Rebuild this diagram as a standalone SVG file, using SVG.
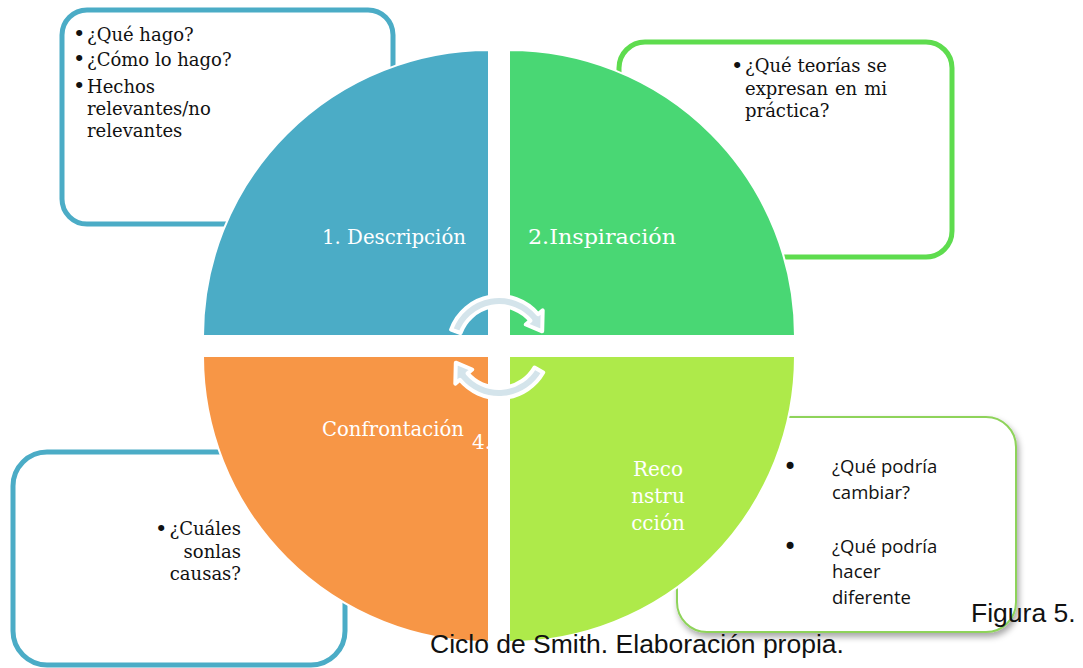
<svg xmlns="http://www.w3.org/2000/svg" width="1083" height="668" viewBox="0 0 1083 668">
<style>
.box{fill:#fff;stroke-width:5}
.blue{stroke:#4BACC6}
.green{stroke:#5EDC4E}
.lgreen{stroke:#8ED35A;stroke-width:2}
.t{font-family:"DejaVu Serif","Liberation Serif",serif;font-size:18px;fill:#111}
.b{font-family:"DejaVu Serif","Liberation Serif",serif;font-size:21px;fill:#111}
.bs{font-family:"DejaVu Sans","Liberation Sans",sans-serif;font-size:24px;fill:#111}
.q{font-family:"DejaVu Serif","Liberation Serif",serif;font-size:20px;fill:#fff}
.s{font-family:"Open Sans","Liberation Sans",sans-serif;font-size:18.5px;fill:#111}
.cap{font-family:"Liberation Sans",Arial,sans-serif;font-size:26.5px;fill:#111}
.quad{stroke:#fff;stroke-width:2}
.arr{fill:#D4E4EB;stroke:#fff;stroke-width:4;stroke-linejoin:round}
</style>
<defs>
<filter id="sh" x="-10%" y="-10%" width="125%" height="130%">
<feDropShadow dx="2" dy="4" stdDeviation="3" flood-color="#000" flood-opacity="0.35"/>
</filter>
<clipPath id="orangeClip"><path d="M489,356 L489,642 A286,286 0 0 1 203,356 Z"/></clipPath>
</defs>

<g id="box-descripcion">
<rect class="box blue" x="62" y="10" width="331" height="214" rx="25"/>
<text class="b" x="73" y="41">•</text><text class="t" x="87" y="40.5">¿Qué hago?</text>
<text class="b" x="73" y="66">•</text><text class="t" x="87" y="65.5">¿Cómo lo hago?</text>
<text class="b" x="73" y="93">•</text><text class="t" x="87" y="92.5">Hechos</text>
<text class="t" x="87" y="115">relevantes/no</text>
<text class="t" x="87" y="137">relevantes</text>
</g>

<g id="box-inspiracion">
<rect class="box green" x="619" y="42" width="333" height="215" rx="26"/>
<text class="b" x="731" y="72.8">•</text>
<text class="t" x="745" y="72.3">¿Qué</text>
<text class="t" x="829" y="72.3" text-anchor="middle">teorías</text>
<text class="t" x="887" y="72.3" text-anchor="end">se</text>
<text class="t" x="745" y="95">expresan</text>
<text class="t" x="846" y="95" text-anchor="middle">en</text>
<text class="t" x="887" y="95" text-anchor="end">mi</text>
<text class="t" x="745" y="117">práctica?</text>
</g>

<g id="box-confrontacion">
<rect class="box blue" x="13" y="452" width="332" height="213" rx="34"/>
<text class="b" x="155" y="535.5">•</text>
<text class="t" x="241" y="535" text-anchor="end">¿Cuáles</text>
<text class="t" x="241" y="558" text-anchor="end">sonlas</text>
<text class="t" x="241" y="580" text-anchor="end">causas?</text>
</g>

<g id="box-reconstruccion">
<rect class="box lgreen" x="677" y="417" width="339" height="215" rx="30" filter="url(#sh)"/>
<text class="bs" x="783" y="475">•</text><text class="s" x="832" y="473">¿Qué podría</text>
<text class="s" x="832" y="499">cambiar?</text>
<text class="bs" x="783" y="555">•</text><text class="s" x="832" y="553">¿Qué podría</text>
<text class="s" x="832" y="578">hacer</text>
<text class="s" x="832" y="604">diferente</text>
</g>

<g id="quad-descripcion">
<path class="quad" fill="#4BACC6" d="M489,336 L203,336 A286,286 0 0 1 489,50 Z"/>
<text class="q" x="322" y="244" textLength="144" lengthAdjust="spacingAndGlyphs">1. Descripción</text>
</g>
<g id="quad-inspiracion">
<path class="quad" fill="#49D774" d="M509,336 L509,50 A286,286 0 0 1 795,336 Z"/>
<text class="q" x="528" y="244" textLength="148" lengthAdjust="spacingAndGlyphs">2.Inspiración</text>
</g>
<g id="quad-confrontacion">
<path class="quad" fill="#F79646" d="M489,356 L489,642 A286,286 0 0 1 203,356 Z"/>
<text class="q" x="322" y="436" textLength="142" lengthAdjust="spacingAndGlyphs">Confrontación</text>
<text class="q" x="472" y="449" clip-path="url(#orangeClip)">4.</text>
</g>
<g id="quad-reconstruccion">
<path class="quad" fill="#AEEA4A" d="M509,356 L795,356 A286,286 0 0 1 509,642 Z"/>
<text class="q" x="658" y="476" text-anchor="middle">Reco</text>
<text class="q" x="658" y="503" text-anchor="middle">nstru</text>
<text class="q" x="658" y="530" text-anchor="middle">cción</text>
</g>

<g id="connectors">
<path class="arr" d="M451.1,329.6 A51,51 0 0 1 538.1,314.2 L542.7,310.4 L542.2,331.3 L525.8,324.5 L530.4,320.6 A41,41 0 0 0 460.5,333.0 Z"/>
<path class="arr" d="M543.2,372.5 A51,51 0 0 1 459.9,379.8 L455.3,383.6 L455.8,362.7 L472.2,369.5 L467.6,373.4 A41,41 0 0 0 534.5,367.5 Z"/>
</g>

<g id="caption">
<text class="cap" x="971" y="622">Figura 5.</text>
<text class="cap" x="430" y="653">Ciclo de Smith. Elaboración propia.</text>
</g>
</svg>
